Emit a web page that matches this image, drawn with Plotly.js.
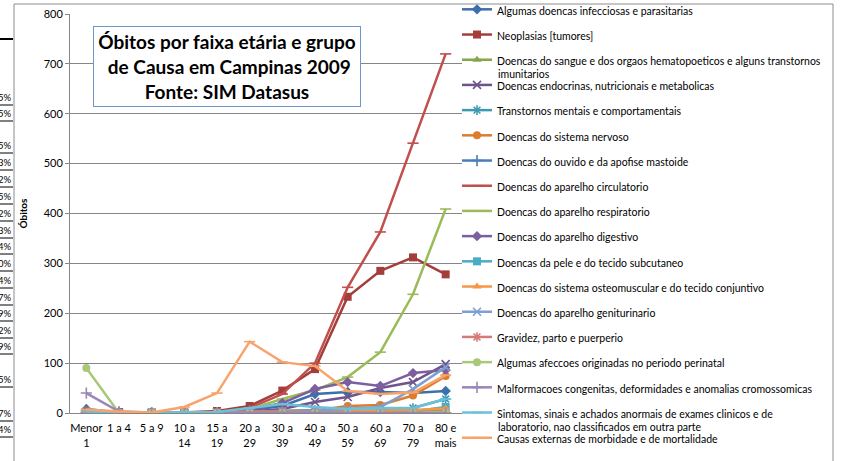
<!DOCTYPE html>
<html>
<head>
<meta charset="utf-8">
<script src="https://cdn.plot.ly/plotly-3.0.1.min.js"></script>
<style>
  body { margin: 0; background: #fff; }
  #grafico { width: 841px; height: 461px; }
</style>
</head>
<body>
<div id="grafico"></div>
<script>
// Faixas etárias (eixo X)
var faixas = ["Menor 1", "1 a 4", "5 a 9", "10 a 14", "15 a 19", "20 a 29",
  "30 a 39", "40 a 49", "50 a 59", "60 a 69", "70 a 79", "80 e mais"];
var rotulosFaixas = ["Menor<br>1", "1 a 4", "5 a 9", "10 a<br>14", "15 a<br>19", "20 a<br>29",
  "30 a<br>39", "40 a<br>49", "50 a<br>59", "60 a<br>69", "70 a<br>79", "80 e<br>mais"];

// Óbitos por grupo de causa
var infecciosas   = [8, 1, 1, 1, 2, 6, 14, 38, 42, 42, 40, 44];
var neoplasias    = [2, 2, 1, 1, 4, 14, 45, 88, 233, 285, 312, 278];
var sangue        = [2, 0, 0, 0, 1, 1, 2, 3, 3, 4, 5, 6];
var endocrinas    = [1, 0, 0, 0, 1, 3, 8, 22, 32, 50, 62, 98];
var mentais       = [0, 0, 0, 0, 0, 2, 4, 6, 4, 5, 10, 28];
var nervoso       = [5, 2, 1, 1, 2, 3, 4, 5, 14, 16, 35, 74];
var ouvido        = [0, 0, 0, 0, 0, 0, 0, 0, 0, 0, 0, 0];
var circulatorio  = [1, 0, 0, 0, 2, 10, 38, 100, 252, 363, 541, 720];
var respiratorio  = [6, 1, 0, 1, 1, 8, 28, 46, 72, 122, 238, 409];
var digestivo     = [3, 1, 0, 0, 1, 6, 20, 48, 62, 54, 80, 86];
var pele          = [0, 0, 0, 0, 0, 0, 1, 1, 1, 2, 3, 12];
var osteomuscular = [0, 0, 0, 0, 0, 1, 1, 2, 3, 4, 6, 9];
var geniturinario = [1, 0, 0, 0, 1, 1, 3, 5, 8, 12, 48, 92];
var gravidez      = [0, 0, 0, 0, 1, 3, 2, 1, 0, 0, 0, 0];
var perinatal     = [90, 0, 0, 0, 0, 0, 0, 0, 0, 0, 0, 0];
var malformacoes  = [40, 3, 1, 1, 1, 1, 1, 0, 0, 0, 0, 0];
var sintomas      = [3, 1, 1, 1, 2, 10, 18, 12, 8, 10, 10, 28];
var externas      = [7, 3, 1, 12, 40, 143, 102, 94, 44, 38, 41, 76];

var nomesCausas = [
  "Algumas doencas infecciosas e parasitarias",
  "Neoplasias [tumores]",
  "Doencas do sangue e dos orgaos hematopoeticos e alguns transtornos",
  "Doencas endocrinas, nutricionais e metabolicas",
  "Transtornos mentais e comportamentais",
  "Doencas do sistema nervoso",
  "Doencas do ouvido e da apofise mastoide",
  "Doencas do aparelho circulatorio",
  "Doencas do aparelho respiratorio",
  "Doencas do aparelho digestivo",
  "Doencas da pele e do tecido subcutaneo",
  "Doencas do sistema osteomuscular e do tecido conjuntivo",
  "Doencas do aparelho geniturinario",
  "Gravidez, parto e puerperio",
  "Algumas afeccoes originadas no periodo perinatal",
  "Malformacoes congenitas, deformidades e anomalias cromossomicas",
  "Sintomas, sinais e achados anormais de exames clinicos e de",
  "Causas externas de morbidade e de mortalidade"
];
// continuação dos nomes longos (segunda linha, como no Excel, sobreposta ao espaço entre itens)
var continuacoes = [
  { item: 2, texto: "imunitarios" },
  { item: 16, texto: "laboratorio, nao classificados em outra parte" }
];
var valoresCausas = [infecciosas, neoplasias, sangue, endocrinas, mentais, nervoso, ouvido,
  circulatorio, respiratorio, digestivo, pele, osteomuscular, geniturinario, gravidez,
  perinatal, malformacoes, sintomas, externas];

// Estilo de cada série (parecido com o Excel 2007)
var cores = ["#3D6FAA", "#A33E3B", "#86A64A", "#6E548D", "#3E9AB3", "#DD7C2E",
  "#4A7EBB", "#C0504D", "#9BBB59", "#7D5FA0", "#4BACC6", "#F79646",
  "#7E9FD1", "#D67A77", "#A9C87A", "#9B86B8", "#6CC0D8", "#F9A36B"];
var simbolos = ["diamond", "square", "triangle-up", "x-thin", "asterisk", "circle",
  "cross-thin", "line-ew", "line-ew", "diamond", "square", "triangle-up",
  "x-thin", "asterisk", "circle", "cross-thin", "line-ew", "line-ew"];

// converte pixels da imagem para coordenadas "paper"
var L = 70, T = 14, W = 392, H = 399;
function px(x) { return (x - L) / W; }
function py(y) { return (T + H - y) / H; }

var data = nomesCausas.map(function (nome, i) {
  var s = simbolos[i];
  var aberto = (s === "x-thin" || s === "asterisk" || s === "cross-thin" || s === "line-ew");
  return {
    x: faixas,
    y: valoresCausas[i],
    name: nome,
    legendgroup: "g" + i,
    type: "scatter",
    mode: "lines+markers",
    line: { color: cores[i], width: 2.5 },
    marker: {
      symbol: s,
      size: 8,
      color: cores[i],
      line: { color: cores[i], width: aberto ? 1.6 : 0 }
    }
  };
});

// Restos da planilha à esquerda do gráfico
var linhasPlanilha = [97, 113, 145, 162, 179, 196, 213, 230, 246, 263, 280, 297, 313, 330, 346, 379, 413, 429];
var textosPlanilha = ["5%", "5%", "5%", "3%", "2%", "5%", "2%", "3%", "4%", "0%", "4%", "7%", "9%", "2%", "9%", "5%", "7%", "4%"];

var anotacoes = [{
  xref: "paper", yref: "paper",
  x: px(227), y: py(66), xanchor: "center", yanchor: "middle",
  text: "Óbitos por faixa etária e grupo<br> de Causa em Campinas 2009<br>Fonte: SIM Datasus",
  showarrow: false,
  align: "center",
  width: 264, height: 77,
  bgcolor: "#ffffff",
  bordercolor: "#6F97C9", borderwidth: 1,
  font: { family: "Lato, sans-serif", size: 19, color: "#000", weight: "bold" }
}];

// legenda: posição do primeiro item e passo entre itens (px)
var legTopo = 11, legPasso = 25.2, legTexto = 497;
continuacoes.forEach(function (c) {
  anotacoes.push({
    xref: "paper", yref: "paper",
    x: px(legTexto - 1), y: py(legTopo + c.item * legPasso + 13),
    xanchor: "left", yanchor: "middle",
    text: c.texto, showarrow: false,
    font: { family: "Lato, sans-serif", size: 10.5, color: "#000" }
  });
});

var formas = [
  // borda externa do gráfico
  { type: "rect", xref: "paper", yref: "paper", x0: px(14), x1: px(833), y0: py(4), y1: py(475),
    line: { color: "#8C8C8C", width: 1 } },
  // linha grossa da planilha
  { type: "line", xref: "paper", yref: "paper", x0: px(0), x1: px(13), y0: py(39), y1: py(39),
    line: { color: "#000", width: 2 } }
];
linhasPlanilha.forEach(function (yy, i) {
  anotacoes.push({
    xref: "paper", yref: "paper", x: px(13.5), y: py(yy), xanchor: "right", yanchor: "middle",
    text: textosPlanilha[i], showarrow: false,
    font: { family: "Lato, sans-serif", size: 9.5, color: "#000" }
  });
  formas.push({ type: "line", xref: "paper", yref: "paper", x0: px(0), x1: px(13),
    y0: py(yy + 8), y1: py(yy + 8), line: { color: "#000", width: 1 } });
});

var layout = {
  width: 841, height: 461,
  margin: { l: L, r: 841 - L - W, t: T, b: 461 - T - H, autoexpand: false },
  paper_bgcolor: "#fff", plot_bgcolor: "#fff",
  font: { family: "Lato, sans-serif", size: 11, color: "#000" },
  showlegend: true,
  legend: {
    x: px(legTexto - 40), xanchor: "left",
    y: py(legTopo - 15), yanchor: "top",
    font: { family: "Lato, sans-serif", size: 10.5, color: "#000" },
    tracegroupgap: legPasso - 19,
    valign: "top",
    maxheight: 600,
    bgcolor: "rgba(0,0,0,0)"
  },
  xaxis: {
    type: "category",
    range: [-0.5, 11.5],
    tickvals: faixas, ticktext: rotulosFaixas,
    showline: true, linecolor: "#868686", linewidth: 1,
    showgrid: false, ticks: "",
    ticklabelstandoff: 5,
    tickfont: { size: 11 },
    automargin: false,
    fixedrange: true
  },
  yaxis: {
    range: [0, 800], dtick: 100,
    showline: true, linecolor: "#868686", linewidth: 1,
    gridcolor: "#868686", gridwidth: 1,
    ticks: "outside", ticklen: 4, tickcolor: "#868686",
    tickfont: { size: 11 },
    zeroline: false,
    automargin: false,
    title: { text: "<b>Óbitos</b>", font: { size: 10 }, standoff: 14 },
    fixedrange: true
  },
  annotations: anotacoes,
  shapes: formas
};

Plotly.newPlot("grafico", data, layout, { displayModeBar: false, staticPlot: true });
</script>
</body>
</html>
